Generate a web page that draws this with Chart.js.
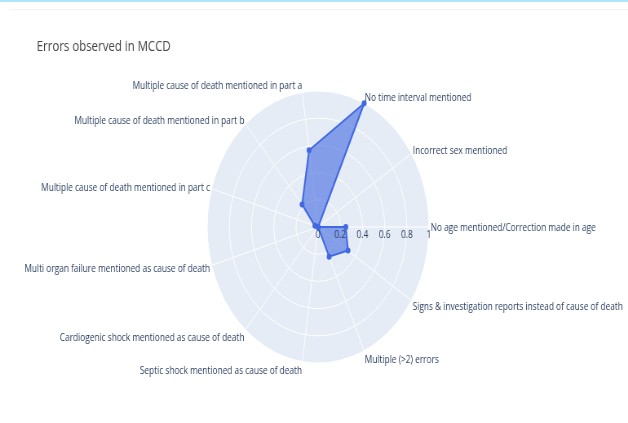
<!DOCTYPE html>
<html><head><meta charset="utf-8">
<script src="https://cdn.jsdelivr.net/npm/chart.js@4"></script>
<style>
html,body{margin:0;padding:0;background:#fff;width:628px;height:423px;overflow:hidden;}
#topline{position:absolute;left:0;top:0;width:628px;height:2px;background:#aee5f7;}
#subline{position:absolute;left:10px;top:9px;width:618px;height:1px;background:#f3f3f3;}
#wrap{position:absolute;left:0;top:0;width:770px;height:423px;transform:scaleX(0.8156);transform-origin:0 0;}
</style></head><body>
<div id="wrap"><canvas id="c" width="770" height="423"></canvas></div>
<div id="topline"></div><div id="subline"></div>
<script>
// Categories in the reference's order (counter-clockwise from the east axis)
const categories = [
  'No age mentioned/Correction made in age',
  'Incorrect sex mentioned',
  'No time interval mentioned',
  'Multiple cause of death mentioned in part a',
  'Multiple cause of death mentioned in part b',
  'Multiple cause of death mentioned in part c',
  'Multi organ failure mentioned as cause of death',
  'Cardiogenic shock mentioned as cause of death',
  'Septic shock mentioned as cause of death',
  'Multiple (>2) errors',
  'Signs & investigation reports instead of cause of death'
];
const errorShare = [0.25, 0, 1.0, 0.57, 0.22, 0.03, 0, 0, 0, 0.24, 0.32];
const radialTickValues = [0, 0.2, 0.4, 0.6, 0.8, 1];
const radialTickLabels = ['0', '0.2', '0.4', '0.6', '0.8', '1'];
const chartTitle = 'Errors observed in MCCD';

// Chart.js radar runs clockwise, the reference runs counter-clockwise: reorder
const order = [0].concat(categories.map((_, i) => i).slice(1).reverse());
const labels = order.map(i => categories[i]);
const values = order.map(i => errorShare[i]);

const polarText = {
  id: 'polarText',
  afterDatasetsDraw(chart) {
    const s = chart.scales.r;
    const ctx = chart.ctx;
    ctx.save();
    // title
    ctx.font = '14px "Open Sans"';
    ctx.fillStyle = '#444444';
    ctx.textAlign = 'left';
    ctx.textBaseline = 'alphabetic';
    ctx.fillText(chartTitle, 45, 51);
    // angular labels
    const fs = 10.2;
    ctx.font = fs + 'px "Open Sans"';
    ctx.fillStyle = '#2a3f5f';
    const pad = 2;
    for (let i = 0; i < labels.length; i++) {
      const p = s.getPointPosition(i, s.drawingArea + pad);
      const cos = Math.cos(p.angle), sin = -Math.sin(p.angle);
      ctx.textAlign = Math.abs(cos) < 0.1 ? 'center' : (cos > 0 ? 'left' : 'right');
      const y = p.y - sin * fs * (sin > 0 ? 0.2 : 1) + Math.abs(cos) * fs * 0.35;
      ctx.fillText(labels[i], p.x, y);
    }
    // radial tick labels along the east axis
    ctx.textAlign = 'center';
    ctx.textBaseline = 'top';
    radialTickValues.forEach((v, k) => {
      const p = s.getPointPosition(0, s.getDistanceFromCenterForValue(v));
      ctx.fillText(radialTickLabels[k], p.x, p.y + 3);
    });
    ctx.restore();
  }
};

new Chart(document.getElementById('c'), {
  type: 'radar',
  data: {
    labels: labels,
    datasets: [{
      data: values,
      fill: true,
      borderColor: '#4169e1',
      backgroundColor: 'rgba(65,105,225,0.6)',
      borderWidth: 2,
      pointRadius: 3,
      pointBackgroundColor: '#4169e1',
      pointBorderWidth: 0,
      tension: 0
    }]
  },
  options: {
    responsive: false,
    animation: false,
    layout: { padding: { left: 254, right: 244, top: 91, bottom: 60 } },
    plugins: { legend: { display: false }, tooltip: { enabled: false }, title: { display: false } },
    scales: {
      r: {
        min: 0, max: 1,
        startAngle: 90,
        backgroundColor: '#E5ECF6',
        ticks: { display: false, stepSize: 0.2 },
        grid: { circular: true, color: '#ffffff', lineWidth: 1 },
        angleLines: { color: '#ffffff', lineWidth: 1 },
        pointLabels: { display: false }
      }
    }
  },
  plugins: [polarText]
});
</script>
</body></html>
